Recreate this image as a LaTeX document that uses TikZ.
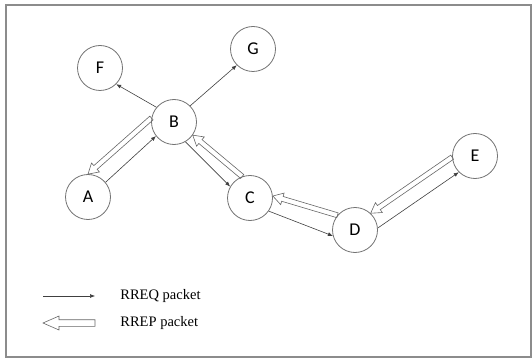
\documentclass[tikz,border=0pt]{standalone}
\usepackage{fontspec}
\setmainfont{Liberation Serif}
\newfontfamily\nodefont{Carlito}
\usetikzlibrary{arrows.meta,calc}

% hollow reply arrow: from, to, half shaft, half head, head length
\newcommand{\rrepline}[5]{%
  \coordinate (h) at ($(#2)!#5!(#1)$);
  \draw[rrep] ($(#1)!#3!90:(#2)$) -- ($(h)!#3!90:(#2)$) -- ($(h)!#4!90:(#2)$) -- (#2)
    -- ($(h)!#4!-90:(#2)$) -- ($(h)!#3!-90:(#2)$) -- ($(#1)!#3!-90:(#2)$) -- cycle;}

\begin{document}
\begin{tikzpicture}
  [x=1pt, y=-1pt,
   every node/.style={circle,draw=black!55,line width=0.8pt,minimum size=45pt,inner sep=0pt,font=\nodefont\fontsize{18}{18}\selectfont},
   legend/.style={draw=none,rectangle,minimum size=0pt,anchor=west,font=\fontsize{14.5}{14.5}\selectfont},
   rreq/.style={draw=black!75,line width=0.6pt,-{Latex[length=5pt,width=4pt]}},
   rrep/.style={draw=black!60,line width=0.6pt,line join=miter}]
  \useasboundingbox (0,0) rectangle (532,358);
  \draw[black!45,line width=1.4pt] (6,5) rectangle (531,357);

  \node (nF) at (100,68) {F};
  \node (nG) at (253,49) {G};
  \node (nB) at (174,122) {B};
  \node (nA) at (88,197) {A};
  \node (nC) at (250,198) {C};
  \node (nD) at (355,230) {D};
  \node (nE) at (475,156) {E};

  % request flooding from B
  \draw[rreq] (nB.140) -- (nF.315);
  \draw[rreq] (nB.45) -- (nG.225);

  % request along the route
  \draw[rreq] (nA.40) -- (nB.218);
  \draw[rreq] (nB.300) -- (nC.150);
  \draw[rreq] (nC.325) -- (nD.195);
  \draw[rreq] (nD.5) -- (nE.225);

  % reply back along the route
  \rrepline{nE.183}{nD.47}{2.5pt}{6pt}{10pt}
  \rrepline{nD.140}{nC.5}{2.5pt}{6pt}{10pt}
  \rrepline{nC.110}{nB.325}{2.5pt}{6pt}{10pt}
  \rrepline{nB.170}{nA.90}{2.5pt}{6pt}{10pt}

  % legend
  \coordinate (l11) at (43,296);
  \coordinate (l12) at (95,296);
  \coordinate (l21) at (95,323);
  \coordinate (l22) at (43,323);
  \draw[rreq] (l11) -- (l12);
  \rrepline{l21}{l22}{3.3pt}{7pt}{16pt}
  \node[legend] (t1) at (120,296) {RREQ packet};
  \node[legend] (t2) at (120,323) {RREP packet};
\end{tikzpicture}
\end{document}
